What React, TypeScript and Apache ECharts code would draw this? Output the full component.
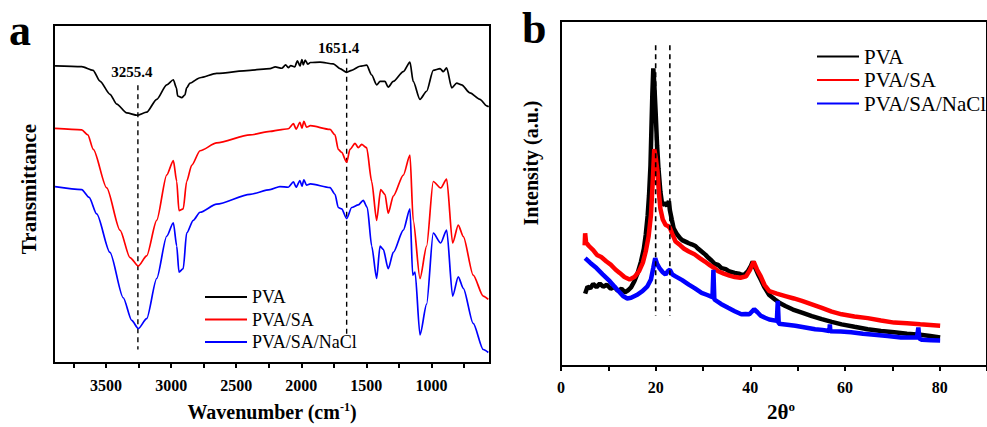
import React, { useEffect, useRef } from "react";
import * as echarts from "echarts";

const FONT = "Liberation Serif, Times New Roman, Times, serif";

const seriesNames = ["PVA", "PVA/SA", "PVA/SA/NaCl"];
const seriesColors = ["#000000", "#ff0000", "#0000ff"];

// Panel a: FTIR, [wavenumber cm-1, transmittance a.u.]
const ftirPVA: number[][] = [
  [3892, 87.9], [3687, 87.7], [3600, 86.6], [3547, 83.4], [3470, 79.5], [3418, 76.6], [3341, 74.0], [3260, 73.3],
  [3188, 74.2], [3111, 78.0], [3034, 82.3], [2983, 83.8], [2960, 81.5], [2950, 79.0], [2919, 78.5], [2894, 79.3],
  [2881, 81.4], [2855, 82.8], [2778, 84.4], [2650, 85.7], [2394, 86.6], [2240, 87.1], [2200, 87.6], [2150, 87.2],
  [2120, 88.2], [2100, 87.4], [2080, 88.0], [2050, 87.6], [2030, 89.4], [2010, 87.9], [1995, 89.8], [1985, 88.2],
  [1970, 89.6], [1950, 88.4], [1930, 88.9], [1856, 89.0], [1754, 88.5], [1703, 87.1], [1651, 86.0], [1613, 86.6],
  [1549, 87.8], [1498, 88.1], [1459, 85.2], [1421, 82.3], [1395, 83.3], [1357, 83.3], [1332, 81.6], [1293, 83.3],
  [1216, 86.2], [1165, 89.0], [1140, 83.3], [1088, 78.0], [1037, 80.4], [986, 86.6], [934, 87.1], [909, 86.2],
  [883, 87.3], [844, 81.4], [806, 82.8], [768, 82.3], [704, 79.9], [627, 78.0], [576, 76.1], [560, 75.8],
];
const ftirPVASA: number[][] = [
  [3892, 69.4], [3687, 69.0], [3640, 67.5], [3598, 63.2], [3495, 51.8], [3393, 39.3], [3316, 31.2], [3252, 28.7],
  [3188, 31.7], [3111, 42.2], [3034, 55.6], [2983, 59.9], [2957, 53.7], [2940, 45.1], [2907, 45.6], [2881, 53.7],
  [2842, 58.5], [2778, 62.8], [2650, 65.1], [2394, 67.5], [2240, 68.5], [2164, 69.0], [2100, 69.3], [2060, 70.8],
  [2040, 69.2], [2010, 71.2], [1995, 69.5], [1980, 71.5], [1960, 69.8], [1930, 70.2], [1779, 69.1], [1741, 67.5],
  [1716, 63.2], [1690, 62.3], [1651, 59.4], [1626, 63.2], [1587, 65.0], [1562, 63.7], [1536, 64.7], [1498, 63.7],
  [1459, 53.7], [1421, 42.2], [1390, 51.3], [1357, 49.9], [1332, 44.3], [1293, 49.4], [1216, 55.6], [1165, 61.5],
  [1140, 42.2], [1088, 25.0], [1037, 34.6], [986, 53.7], [929, 51.8], [883, 54.4], [837, 35.5], [794, 40.8],
  [755, 37.4], [679, 26.0], [602, 19.8], [563, 18.8],
];
const ftirPVASANaCl: number[][] = [
  [3892, 52.2], [3687, 51.3], [3630, 49.0], [3572, 44.1], [3470, 32.7], [3368, 19.3], [3303, 12.6], [3252, 10.2],
  [3188, 13.1], [3111, 25.0], [3034, 37.5], [2983, 41.5], [2957, 34.6], [2940, 26.9], [2907, 27.9], [2881, 38.4],
  [2830, 42.2], [2778, 44.6], [2650, 47.0], [2394, 49.9], [2240, 51.3], [2164, 52.2], [2100, 52.0], [2060, 53.6],
  [2040, 52.0], [2010, 54.0], [1995, 52.3], [1980, 54.2], [1960, 52.6], [1930, 53.0], [1779, 51.9], [1741, 49.9],
  [1716, 46.0], [1690, 45.6], [1651, 42.7], [1613, 46.0], [1562, 46.8], [1524, 48.1], [1493, 46.0], [1459, 34.6],
  [1421, 25.0], [1395, 34.6], [1370, 33.6], [1332, 27.9], [1293, 32.7], [1216, 39.3], [1165, 45.6], [1144, 26.0],
  [1126, 26.9], [1088, 8.3], [1037, 17.4], [986, 38.4], [929, 35.5], [883, 39.3], [837, 19.8], [794, 25.5],
  [755, 22.1], [679, 11.7], [602, 4.0], [563, 3.1],
];
const ftirPeaks = [3255.4, 1651.4];
const ftirPeakTop = [82.2, 90.0];
const ftirPeakBottom = [4.0, 7.8];
const ftirTicks = [750, 1000, 1250, 1500, 1750, 2000, 2250, 2500, 2750, 3000, 3250, 3500, 3750];
const ftirTickLabels = [1000, 1500, 2000, 2500, 3000, 3500];

// Panel b: XRD, [2θ, intensity a.u.]
const xrdPVA: number[][] = [
  [5.1, 21.0], [5.6, 23.0], [6.2, 22.6], [6.8, 23.8], [7.5, 22.9], [8.2, 23.9], [8.9, 23.0], [9.7, 23.6],
  [10.5, 22.4], [11.3, 22.9], [12.0, 21.8], [12.8, 22.4], [13.5, 21.4], [14.1, 21.9], [14.8, 22.8], [15.5, 24.6],
  [16.2, 27.0], [16.9, 30.3], [17.5, 34.0], [17.9, 38.0], [18.3, 43.5], [18.6, 49.5], [18.9, 58.0], [19.1, 68.6],
  [19.3, 79.0], [19.5, 86.3], [19.7, 82.0], [20.0, 73.4], [20.3, 64.0], [20.6, 57.1], [21.0, 50.5], [21.4, 46.6],
  [21.9, 47.3], [22.4, 46.4], [22.8, 47.8], [23.0, 45.2], [23.4, 42.5], [23.8, 39.9], [24.5, 38.2], [25.2, 37.0],
  [25.6, 36.5], [26.4, 36.0], [27.0, 35.6], [27.6, 35.3], [28.4, 34.8], [29.0, 34.0], [29.7, 33.2], [30.5, 32.3],
  [31.2, 31.3], [31.8, 30.6], [32.5, 29.6], [33.2, 29.3], [33.9, 28.4], [34.8, 28.1], [35.6, 27.4], [36.7, 27.0],
  [37.6, 26.8], [38.3, 26.4], [38.8, 26.6], [39.5, 27.5], [40.1, 29.0], [40.5, 30.3], [41.0, 28.6], [41.6, 26.7],
  [42.2, 25.1], [43.0, 22.8], [44.0, 20.6], [45.2, 19.3], [46.3, 18.2], [47.4, 17.4], [49.0, 16.4], [50.9, 15.5],
  [53.0, 14.5], [55.1, 13.6], [57.2, 12.8], [59.3, 12.1], [62.0, 11.4], [64.8, 10.7], [67.6, 10.2], [70.4, 9.8],
  [73.1, 9.4], [75.9, 9.1], [78.0, 8.7], [80.1, 8.3],
];
const xrdPVASA: number[][] = [
  [5.0, 35.0], [5.1, 38.5], [5.3, 35.8], [5.9, 34.8], [6.8, 33.6], [7.6, 32.2], [8.5, 31.6], [9.6, 30.3],
  [10.5, 29.4], [11.5, 28.0], [12.4, 27.0], [13.4, 25.8], [14.5, 25.1], [15.5, 25.8], [16.5, 27.5], [17.3, 30.0],
  [17.9, 33.2], [18.5, 37.5], [19.0, 43.7], [19.4, 54.0], [19.7, 62.9], [20.0, 60.5], [20.4, 56.2], [20.7, 50.0],
  [21.0, 45.6], [21.5, 42.5], [22.1, 40.9], [22.6, 40.6], [23.0, 40.1], [23.6, 38.0], [24.2, 36.1], [25.2, 35.0],
  [26.0, 34.0], [27.0, 33.2], [28.2, 32.4], [29.3, 31.3], [30.4, 30.3], [31.5, 29.2], [32.3, 28.5], [33.2, 27.5],
  [34.4, 26.8], [35.6, 26.2], [36.7, 25.8], [37.9, 25.6], [39.1, 26.0], [39.9, 27.8], [40.7, 30.3], [41.4, 28.0],
  [42.2, 26.0], [43.0, 23.5], [44.0, 21.7], [45.6, 21.0], [47.4, 20.3], [49.2, 19.6], [50.9, 18.9], [53.0, 17.9],
  [55.1, 16.9], [57.2, 15.8], [59.3, 15.0], [62.0, 14.4], [64.8, 13.9], [67.6, 13.2], [70.4, 12.6], [73.1, 12.4],
  [75.9, 12.1], [78.0, 11.9], [80.1, 11.7],
];
const xrdPVASANaCl: number[][] = [
  [5.1, 31.3], [6.2, 29.9], [7.5, 28.4], [8.8, 26.6], [10.3, 24.6], [11.7, 22.4], [13.1, 20.3], [14.0, 19.6],
  [14.8, 19.8], [16.0, 20.6], [17.2, 21.7], [18.2, 23.0], [19.0, 25.1], [19.5, 28.5], [19.9, 31.3], [20.3, 29.6],
  [20.8, 28.4], [21.5, 27.2], [22.1, 26.5], [22.6, 27.6], [23.0, 27.9], [23.5, 26.6], [24.2, 26.0], [25.6, 24.9],
  [27.0, 23.6], [28.3, 22.5], [29.7, 21.2], [30.9, 20.6], [32.0, 20.0], [32.2, 27.9], [32.4, 19.3], [33.8, 18.0],
  [35.3, 16.9], [36.7, 15.9], [38.1, 15.0], [39.0, 15.1], [39.8, 15.0], [40.8, 16.5], [41.5, 15.6], [42.2, 14.6],
  [43.1, 14.0], [44.0, 13.5], [45.6, 13.1], [45.8, 18.9], [46.0, 12.3], [47.8, 12.0], [49.5, 11.7], [51.6, 11.2],
  [53.7, 10.7], [55.2, 10.5], [56.7, 10.2], [56.8, 12.1], [56.9, 10.1], [59.1, 10.0], [61.3, 9.8], [63.8, 9.4],
  [66.2, 9.1], [69.0, 8.7], [71.8, 8.3], [73.5, 8.3], [75.2, 8.3], [75.5, 11.2], [75.7, 8.0], [76.3, 7.6],
  [78.2, 7.5], [80.1, 7.4],
];
const xrdPeaks = [20, 23];
const xrdPeakTop = 93.0;
const xrdPeakBottom = 14.6;
const xrdTicks = [0, 10, 20, 30, 40, 50, 60, 70, 80, 90];
const xrdTickLabels = [0, 20, 40, 60, 80];

export default function App() {
  const ref = useRef<HTMLDivElement>(null);

  useEffect(() => {
    document.body.style.margin = "0";
    if (!ref.current) return;
    const chart = echarts.init(ref.current, null, { renderer: "svg" });

    const ftirData = [ftirPVA, ftirPVASA, ftirPVASANaCl];
    const xrdData = [xrdPVA, xrdPVASA, xrdPVASANaCl];

    const axisLabelStyle = {
      color: "#000",
      fontFamily: FONT,
      fontWeight: "bold" as const,
      fontSize: 16,
      margin: 14,
      formatter: (v: number) => String(v),
    };

    const series: any[] = [];
    seriesNames.forEach((name, i) => {
      series.push({
        type: "line",
        name,
        xAxisIndex: 0,
        yAxisIndex: 0,
        data: ftirData[i],
        symbol: "none",
        smooth: 0.25,
        smoothMonotone: "x",
        lineStyle: { color: seriesColors[i], width: 1.7 },
        itemStyle: { color: seriesColors[i] },
        z: 3,
      });
    });
    seriesNames.forEach((name, i) => {
      series.push({
        type: "line",
        name,
        xAxisIndex: 1,
        yAxisIndex: 1,
        data: xrdData[i],
        symbol: "none",
        lineStyle: { color: seriesColors[i], width: 4.5 },
        itemStyle: { color: seriesColors[i] },
        z: 3,
      });
    });
    ftirPeaks.forEach((p, i) => {
      series.push({
        type: "line",
        name: "peak-a-" + i,
        xAxisIndex: 0,
        yAxisIndex: 0,
        symbol: "circle",
        symbolSize: 1,
        showSymbol: true,
        itemStyle: { color: "rgba(0,0,0,0)" },
        lineStyle: { color: "#000", width: 1.4, type: [5, 4] },
        data: [
          {
            value: [p, ftirPeakTop[i]],
            label: {
              show: true,
              position: "top",
              distance: i === 0 ? 5 : 3,
              offset: [i === 0 ? -6 : -8, 0],
              formatter: () => p.toFixed(1),
              color: "#000",
              fontFamily: FONT,
              fontWeight: "bold",
              fontSize: 15,
            },
          },
          { value: [p, ftirPeakBottom[i]], label: { show: false } },
        ],
        z: 2,
      });
    });
    xrdPeaks.forEach((p, i) => {
      series.push({
        type: "line",
        name: "peak-b-" + i,
        xAxisIndex: 1,
        yAxisIndex: 1,
        symbol: "none",
        lineStyle: { color: "#000", width: 1.6, type: [5, 4] },
        data: [
          [p, xrdPeakTop],
          [p, xrdPeakBottom],
        ],
        z: 5,
      });
    });

    const legendCommon = {
      orient: "vertical" as const,
      icon: "rect",
      itemWidth: 42,
      itemHeight: 2,
      data: seriesNames,
      selectedMode: false,
      textStyle: { color: "#000", fontFamily: FONT },
    };

    chart.setOption({
      animation: false,
      backgroundColor: "#fff",
      grid: [
        { left: 54, top: 25, width: 436, height: 350, show: true, borderColor: "#000", borderWidth: 2, containLabel: false },
        { left: 561, top: 21, width: 433, height: 348, show: true, borderColor: "#000", borderWidth: 2, containLabel: false },
      ],
      xAxis: [
        {
          type: "value",
          gridIndex: 0,
          min: 550,
          max: 3900,
          inverse: true,
          splitLine: { show: false },
          axisLine: { show: true, lineStyle: { color: "#000", width: 2 } },
          axisTick: { show: true, length: 5, lineStyle: { color: "#000", width: 2 }, customValues: ftirTicks },
          axisLabel: { ...axisLabelStyle, customValues: ftirTickLabels },
          name: "Wavenumber (cm{sup|-1})",
          nameLocation: "middle",
          nameGap: 38,
          nameTextStyle: {
            color: "#000",
            fontFamily: FONT,
            fontWeight: "bold",
            fontSize: 20,
            rich: {
              sup: { fontFamily: FONT, fontWeight: "bold", fontSize: 12, verticalAlign: "top", color: "#000", padding: [0, 0, 10, 0] },
            },
          },
        },
        {
          type: "value",
          gridIndex: 1,
          min: 0,
          max: 90,
          splitLine: { show: false },
          axisLine: { show: true, lineStyle: { color: "#000", width: 2 } },
          axisTick: { show: true, length: 5, lineStyle: { color: "#000", width: 2 }, customValues: xrdTicks },
          axisLabel: { ...axisLabelStyle, margin: 13, customValues: xrdTickLabels },
          name: "2θ{sup|o}",
          nameLocation: "middle",
          nameGap: 29,
          nameTextStyle: {
            color: "#000",
            fontFamily: FONT,
            fontWeight: "bold",
            fontSize: 21,
            padding: [0, 0, 0, 14],
            rich: {
              sup: { fontFamily: FONT, fontSize: 13, verticalAlign: "top", color: "#000", padding: [0, 0, 10, 0] },
            },
          },
        },
      ],
      yAxis: [
        {
          type: "value",
          gridIndex: 0,
          min: 0,
          max: 100,
          splitLine: { show: false },
          axisLine: { show: true, lineStyle: { color: "#000", width: 2 } },
          axisTick: { show: false },
          axisLabel: { show: false },
        },
        {
          type: "value",
          gridIndex: 1,
          min: 0,
          max: 100,
          splitLine: { show: false },
          axisLine: { show: true, lineStyle: { color: "#000", width: 2 } },
          axisTick: { show: false },
          axisLabel: { show: false },
        },
      ],
      legend: [
        { ...legendCommon, left: 200, top: 283, itemGap: 4.5, textStyle: { ...legendCommon.textStyle, fontSize: 18 } },
        { ...legendCommon, left: 812, top: 41, itemGap: 2.5, textStyle: { ...legendCommon.textStyle, fontSize: 21 } },
      ],
      graphic: [
        { type: "text", x: 9, y: 30, style: { text: "a", fontFamily: FONT, fontWeight: "bold", fontSize: 44, fill: "#000", textAlign: "left", textVerticalAlign: "middle" } },
        { type: "text", x: 522, y: 28, style: { text: "b", fontFamily: FONT, fontWeight: "bold", fontSize: 44, fill: "#000", textAlign: "left", textVerticalAlign: "middle" } },
        { type: "text", x: 29, y: 189, rotation: Math.PI / 2, style: { text: "Transmittance", fontFamily: FONT, fontWeight: "bold", fontSize: 21, fill: "#000", textAlign: "center", textVerticalAlign: "middle" } },
        { type: "text", x: 531, y: 163, rotation: Math.PI / 2, style: { text: "Intensity (a.u.)", fontFamily: FONT, fontWeight: "bold", fontSize: 20, fill: "#000", textAlign: "center", textVerticalAlign: "middle" } },
      ],
      series,
    });

    return () => chart.dispose();
  }, []);

  return <div ref={ref} style={{ width: 987, height: 427 }} />;
}
